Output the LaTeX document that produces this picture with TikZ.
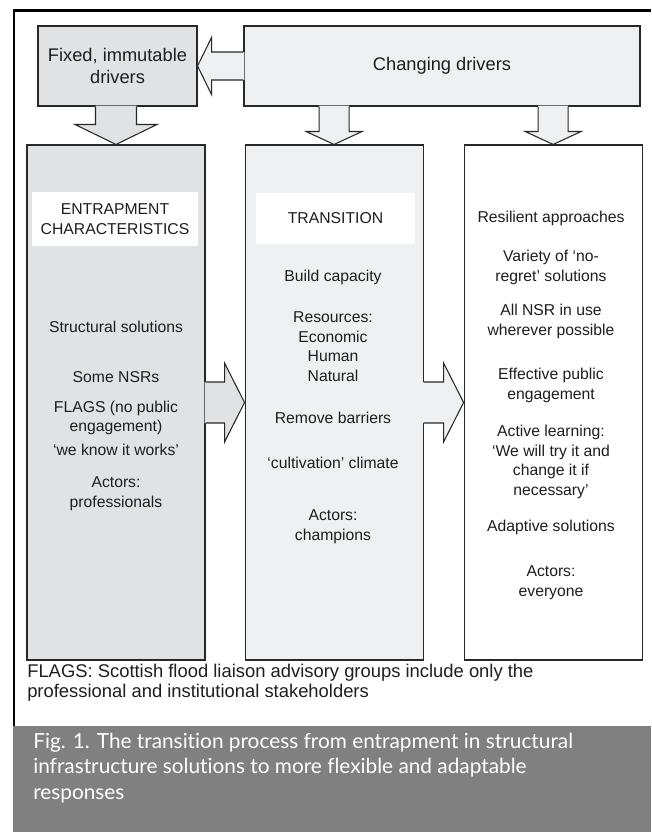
\documentclass[tikz,border=0pt]{standalone}
\usepackage{fontspec}
\setmainfont{Liberation Sans}
\newfontfamily\figcapfont{Lato}[Ligatures={NoCommon}]
\usepackage{tikz}
\usetikzlibrary{calc,positioning}
\definecolor{fixedgray}{RGB}{225,226,228}
\definecolor{changegray}{RGB}{239,240,242}
\definecolor{edgegray}{RGB}{40,40,40}
\definecolor{inkgray}{RGB}{30,30,30}
\definecolor{bandgray}{RGB}{128,128,128}

\begin{document}
\begin{tikzpicture}[
    x=0.75pt, y=-0.75pt,
    drv/.style={rectangle, draw=edgegray, line width=0.8pt, minimum height=60pt,
        align=center, text=inkgray, font=\fontsize{13.7}{16.3}\selectfont},
    col/.style={rectangle, draw=edgegray, line width=0.8pt, minimum width=133.5pt,
        minimum height=386.25pt},
    head/.style={rectangle, fill=white, align=center, text=inkgray, inner sep=0pt,
        font=\fontsize{11.8}{14.7}\selectfont},
    txt/.style={align=center, text=inkgray, inner sep=0pt,
        font=\fontsize{11.8}{14.7}\selectfont},
    bline/.style={draw=edgegray, line width=0.8pt, line join=miter}
]
\useasboundingbox (0,0) rectangle (651,832);

% frame and caption band
\draw[line width=1.7pt] (651,10.5) -| (13.8,726);
\fill[bandgray] (13,726) rectangle (651,832);

% drivers
\node[drv, fill=fixedgray, minimum width=119.25pt] (fixed) at (117.5,66) {Fixed, immutable\\drivers};
\node[drv, fill=changegray, minimum width=297pt] (change) at (442,66) {Changing drivers};

% the three columns
\node[col, fill=fixedgray] (entrap) at (116,402.5) {};
\node[col, fill=changegray, right=29.25pt of entrap] (trans) {};
\node[col, fill=white, right=30pt of trans] (resil) {};

% changing -> fixed
\fill[changegray] ($(change.west)+(1,-14)$) -- ($(fixed.east)+(14,-14)$) -- ($(fixed.east)+(14,-28.5)$)
    -- (fixed.east) -- ($(fixed.east)+(14,28.5)$) -- ($(fixed.east)+(14,14)$) -- ($(change.west)+(1,14)$) -- cycle;
\draw[bline] ($(change.west)+(0,-14)$) -- ($(fixed.east)+(14,-14)$) -- ($(fixed.east)+(14,-28.5)$)
    -- (fixed.east) -- ($(fixed.east)+(14,28.5)$) -- ($(fixed.east)+(14,14)$) -- ($(change.west)+(0,14)$);

% fixed -> entrapment
\coordinate (s1) at (entrap.north |- fixed.south);
\fill[fixedgray] ($(s1)+(-20.5,-1)$) -- ($(entrap.north)+(-20.5,-20)$) -- ($(entrap.north)+(-41,-20)$)
    -- (entrap.north) -- ($(entrap.north)+(41,-20)$) -- ($(entrap.north)+(20.5,-20)$) -- ($(s1)+(20.5,-1)$) -- cycle;
\draw[bline] ($(s1)+(-20.5,0)$) -- ($(entrap.north)+(-20.5,-20)$) -- ($(entrap.north)+(-41,-20)$)
    -- (entrap.north) -- ($(entrap.north)+(41,-20)$) -- ($(entrap.north)+(20.5,-20)$) -- ($(s1)+(20.5,0)$);

% changing -> transition
\coordinate (s2) at (trans.north |- change.south);
\fill[changegray] ($(s2)+(-15,-1)$) -- ($(trans.north)+(-15,-13)$) -- ($(trans.north)+(-28,-13)$)
    -- (trans.north) -- ($(trans.north)+(28,-13)$) -- ($(trans.north)+(15,-13)$) -- ($(s2)+(15,-1)$) -- cycle;
\draw[bline] ($(s2)+(-15,0)$) -- ($(trans.north)+(-15,-13)$) -- ($(trans.north)+(-28,-13)$)
    -- (trans.north) -- ($(trans.north)+(28,-13)$) -- ($(trans.north)+(15,-13)$) -- ($(s2)+(15,0)$);

% changing -> resilient
\coordinate (s3) at (resil.north |- change.south);
\fill[changegray] ($(s3)+(-15,-1)$) -- ($(resil.north)+(-15,-13)$) -- ($(resil.north)+(-28,-13)$)
    -- (resil.north) -- ($(resil.north)+(28,-13)$) -- ($(resil.north)+(15,-13)$) -- ($(s3)+(15,-1)$) -- cycle;
\draw[bline] ($(s3)+(-15,0)$) -- ($(resil.north)+(-15,-13)$) -- ($(resil.north)+(-28,-13)$)
    -- (resil.north) -- ($(resil.north)+(28,-13)$) -- ($(resil.north)+(15,-13)$) -- ($(s3)+(15,0)$);

% entrapment -> transition
\fill[fixedgray] ($(entrap.east)+(-1,-20.5)$) -- ($(trans.west)+(-20,-20.5)$) -- ($(trans.west)+(-20,-39.5)$)
    -- (trans.west) -- ($(trans.west)+(-20,39.5)$) -- ($(trans.west)+(-20,20.5)$) -- ($(entrap.east)+(-1,20.5)$) -- cycle;
\draw[bline] ($(entrap.east)+(0,-20.5)$) -- ($(trans.west)+(-20,-20.5)$) -- ($(trans.west)+(-20,-39.5)$)
    -- (trans.west) -- ($(trans.west)+(-20,39.5)$) -- ($(trans.west)+(-20,20.5)$) -- ($(entrap.east)+(0,20.5)$);

% transition -> resilient
\fill[changegray] ($(trans.east)+(-1,-20.5)$) -- ($(resil.west)+(-20,-20.5)$) -- ($(resil.west)+(-20,-39.5)$)
    -- (resil.west) -- ($(resil.west)+(-20,39.5)$) -- ($(resil.west)+(-20,20.5)$) -- ($(trans.east)+(-1,20.5)$) -- cycle;
\draw[bline] ($(trans.east)+(0,-20.5)$) -- ($(resil.west)+(-20,-20.5)$) -- ($(resil.west)+(-20,-39.5)$)
    -- (resil.west) -- ($(resil.west)+(-20,39.5)$) -- ($(resil.west)+(-20,20.5)$) -- ($(trans.east)+(0,20.5)$);

% column texts
\node[head, minimum width=124.5pt, minimum height=40.5pt] (entraphead) at (115,219) {ENTRAPMENT\\CHARACTERISTICS};
\node[txt] (e1) at (116,327) {Structural solutions};
\node[txt] (e2) at (116,377) {Some NSRs};
\node[txt] (e3) at (116,418) {FLAGS (no public\\engagement)};
\node[txt] (e4) at (116,450) {‘we know it works’};
\node[txt] (e5) at (116,494) {Actors:\\professionals};

\node[head, minimum width=119.25pt, minimum height=38.25pt] (transhead) at (335.5,218.5) {TRANSITION};
\node[txt] (t1) at (333,277) {Build capacity};
\node[txt] (t2) at (333,346.5) {Resources:\\Economic\\Human\\Natural};
\node[txt] (t3) at (333,418) {Remove barriers};
\node[txt] (t4) at (333,463) {‘cultivation’ climate};
\node[txt] (t5) at (333,527) {Actors:\\champions};

\node[txt] (r1) at (551,218) {Resilient approaches};
\node[txt] (r2) at (551,267.5) {Variety of ‘no-\\regret’ solutions};
\node[txt] (r3) at (551,321.5) {All NSR in use\\wherever possible};
\node[txt] (r4) at (551,385.5) {Effective public\\engagement};
\node[txt] (r5) at (551,462) {Active learning:\\‘We will try it and\\change it if\\necessary’};
\node[txt] (r6) at (551,527) {Adaptive solutions};
\node[txt] (r7) at (551,582.5) {Actors:\\everyone};

% footnote and caption
\node[anchor=west, align=left, inner sep=0pt, text=inkgray, font=\fontsize{13.8}{15}\selectfont] (note)
    at (27,683) {FLAGS: Scottish flood liaison advisory groups include only the\\professional and institutional stakeholders};
\node[anchor=west, align=left, inner sep=0pt, text=white, font=\figcapfont\fontsize{15.6}{19}\selectfont] (caption)
    at (33,768) {Fig. 1. The transition process from entrapment in structural\\infrastructure solutions to more flexible and adaptable\\responses};
\end{tikzpicture}
\end{document}
